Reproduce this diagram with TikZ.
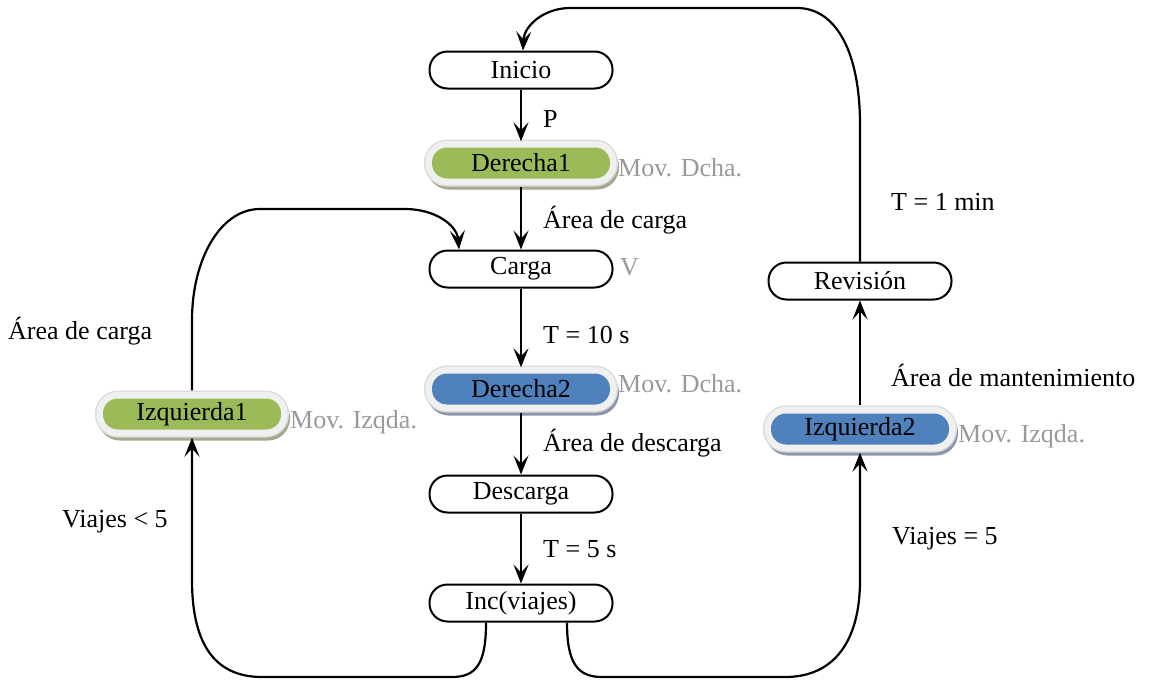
\documentclass[tikz,border=0pt]{standalone}
\usepackage{fontspec}
\setmainfont{Liberation Serif}
\usetikzlibrary{arrows.meta,calc}
\definecolor{boxgreen}{HTML}{9BBB59}
\definecolor{boxblue}{HTML}{4F81BD}
\definecolor{halo}{HTML}{F0F0F0}
\definecolor{haloedge}{HTML}{DCDCDC}
\definecolor{greenshadow}{HTML}{A3A88E}
\definecolor{blueshadow}{HTML}{8A96AC}
\definecolor{notegray}{HTML}{999999}
\begin{document}
\begin{tikzpicture}[x=1pt,y=-1pt,
  every node/.style={font=\fontsize{26}{30}\selectfont},
  flow/.style={line width=2.2pt},
  arr/.style={flow,-{Stealth[length=19pt,width=15pt,inset=8pt]}},
  stepbox/.style={draw,line width=2pt,rounded corners=18pt,minimum width=183pt,minimum height=37pt,inner sep=0pt},
  haloshape/.style={rounded corners=15pt,minimum width=178pt,minimum height=31pt,inner sep=0pt,
     preaction={draw=#1,line width=14pt,transform canvas={xshift=2pt,yshift=-4pt}},
     preaction={draw=haloedge,line width=16pt},
     preaction={draw=halo,line width=13pt}},
  greenbox/.style={haloshape=greenshadow,fill=boxgreen},
  bluebox/.style={haloshape=blueshadow,fill=boxblue},
  note/.style={text=notegray,anchor=base west,inner sep=0pt},
  lbl/.style={anchor=base west,inner sep=0pt}
]
\useasboundingbox (0,0) rectangle (1150,683);

% process steps
\node[stepbox] (inicio) at (521,70) {Inicio};
\node[greenbox] (der1) at (521,163) {Derecha1};
\node[stepbox] (carga) at (521,269) {Carga};
\node[bluebox] (der2) at (521,389) {Derecha2};
\node[stepbox] (descarga) at (521,494) {Descarga};
\node[stepbox] (inc) at (521,603) {Inc(viajes)};
\node[greenbox] (izq1) at (192,414) {Izquierda1};
\node[bluebox] (izq2) at (860,429) {Izquierda2};
\node[stepbox] (revision) at (860,281) {Revisión};

% action notes
\node[note] (n1) at (618,176) {Mov. Dcha.};
\node[note] (n2) at (620,275) {V};
\node[note] (n3) at (618,392) {Mov. Dcha.};
\node[note] (n4) at (290,428) {Mov. Izqda.};
\node[note] (n5) at (958,442) {Mov. Izqda.};

% transition labels
\node[lbl] (l1) at (543,127) {P};
\node[lbl] (l2) at (543,228) {Área de carga};
\node[lbl] (l3) at (543,343) {T = 10 s};
\node[lbl] (l4) at (543,451) {Área de descarga};
\node[lbl] (l5) at (543,557) {T = 5 s};
\node[lbl] (l6) at (8,339) {Área de carga};
\node[lbl] (l7) at (62,527) {Viajes < 5};
\node[lbl] (l8) at (891,210) {T = 1 min};
\node[lbl] (l9) at (891,386) {Área de mantenimiento};
\node[lbl] (l10) at (892,544) {Viajes = 5};

% main sequence
\draw[arr,shorten >=6pt] (inicio) -- (der1);
\draw[arr,shorten <=8pt] (der1) -- (carga);
\draw[arr,shorten >=6pt] (carga) -- (der2);
\draw[arr,shorten <=8pt] (der2) -- (descarga);
\draw[arr] (descarga) -- (inc);

% left loop: more trips
\draw[arr,shorten >=8pt] ([xshift=-35pt]inc.south) .. controls +(0,40) and +(25,0) .. (452,677)
  -- (262,677) .. controls (212,677) and (192,640) .. (192,580) -- (izq1.south);
\draw[arr,shorten <=8pt] (izq1.north) -- (192,320) .. controls (192,260) and (220,209) .. (260,209)
  -- (405,209) .. controls (435,209) and (457,225) .. ([xshift=-62pt]carga.north);

% right loop: maintenance
\draw[arr,shorten >=8pt] ([xshift=46pt]inc.south) .. controls +(0,40) and +(-25,0) .. (602,677)
  -- (785,677) .. controls (835,677) and (860,640) .. (860,580) -- (izq2.south);
\draw[arr,shorten <=8pt] (izq2) -- (revision);
\draw[arr] (revision.north) -- (860,125) .. controls (860,50) and (835,8) .. (797,8)
  -- (570,8) .. controls (545,8) and (524,25) .. ([xshift=2pt]inicio.north);
\end{tikzpicture}
\end{document}
